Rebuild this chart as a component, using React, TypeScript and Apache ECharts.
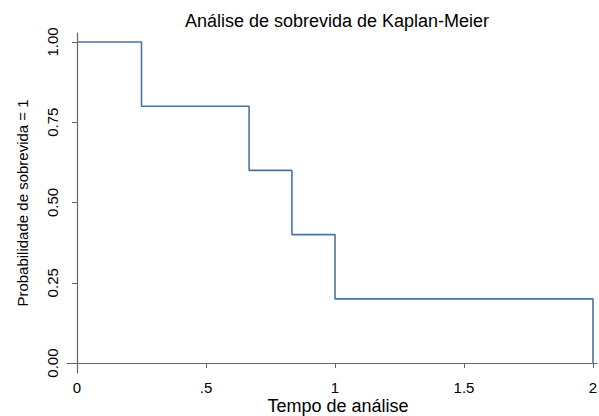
import React, { useEffect, useRef } from "react";
import * as echarts from "echarts";

const times = [0, 0.25, 0.667, 0.833, 1, 2];
const survival = [1, 0.8, 0.6, 0.4, 0.2, 0];
const xTicks = [0, 0.5, 1, 1.5, 2];
const xTickLabels = ["0", ".5", "1", "1.5", "2"];
const yTicks = [0, 0.25, 0.5, 0.75, 1];

export default function App() {
  const ref = useRef<HTMLDivElement>(null);
  useEffect(() => {
    document.body.style.margin = "0";
    const chart = echarts.init(ref.current!, null, { renderer: "svg" });
    const font = "'Liberation Sans', Arial, Helvetica, sans-serif";
    chart.setOption({
      animation: false,
      title: {
        text: "Análise de sobrevida de Kaplan-Meier",
        left: 332,
        top: 7,
        textAlign: "center",
        textStyle: { fontFamily: font, fontSize: 18, fontWeight: "normal", color: "#000" },
      },
      grid: { left: 67, right: 2, top: 33, bottom: 43, containLabel: false, outerBoundsMode: "none" },
      xAxis: {
        type: "value",
        min: -0.0388,
        max: 2.0155,
        name: "Tempo de análise",
        nameLocation: "middle",
        nameGap: 24,
        nameMoveOverlap: false,
        nameTextStyle: {
          fontFamily: font,
          fontSize: 18,
          color: "#000",
          verticalAlign: "top",
          padding: [0, 0, 0, 12],
        },
        splitLine: { show: false },
        axisLine: { show: true, lineStyle: { color: "#666", width: 1.2 } },
        axisTick: { show: true, length: 5, customValues: xTicks, lineStyle: { color: "#666" } },
        axisLabel: {
          customValues: xTicks,
          margin: 7,
          fontFamily: font,
          fontSize: 15,
          color: "#000",
          formatter: (v: number) => xTickLabels[xTicks.indexOf(v)] ?? String(v),
        },
      },
      yAxis: {
        type: "value",
        min: -0.031,
        max: 1.028,
        name: "Probabilidade de sobrevida = 1",
        nameLocation: "middle",
        nameRotate: 90,
        nameGap: 37,
        nameMoveOverlap: false,
        nameTextStyle: { fontFamily: font, fontSize: 15, color: "#000" },
        splitLine: { show: false },
        axisLine: { show: true, lineStyle: { color: "#666", width: 1.2 } },
        axisTick: { show: true, length: 5, customValues: yTicks, lineStyle: { color: "#666" } },
        axisLabel: {
          customValues: yTicks,
          rotate: 90,
          margin: 7,
          fontFamily: font,
          fontSize: 15,
          color: "#000",
          formatter: (v: number) => v.toFixed(2),
        },
      },
      series: [
        {
          type: "line",
          step: "end",
          data: times.map((t, i) => [t, survival[i]]),
          showSymbol: false,
          symbol: "none",
          lineStyle: { color: "#4a74a0", width: 1.6 },
        },
      ],
    });
    return () => chart.dispose();
  }, []);
  return <div ref={ref} style={{ width: 599, height: 416 }} />;
}
